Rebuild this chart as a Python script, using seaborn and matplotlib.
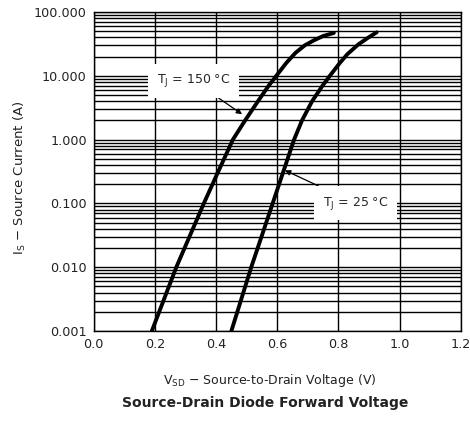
import numpy as np
import pandas as pd
import seaborn as sns
import matplotlib.pyplot as plt
from matplotlib.ticker import FixedLocator, LogLocator, NullFormatter

# Source-drain diode forward characteristic
v_150 = [0.19, 0.27, 0.36, 0.405, 0.455, 0.495, 0.537, 0.572, 0.597, 0.63, 0.66, 0.69, 0.72, 0.75, 0.785]
i_150 = [0.001, 0.01, 0.1, 0.3, 1.0, 2.0, 4.0, 7.0, 10.0, 16.0, 23.0, 30.0, 36.0, 42.0, 47.0]

v_25 = [0.45, 0.515, 0.585, 0.655, 0.681, 0.714, 0.748, 0.772, 0.805, 0.83, 0.865, 0.895, 0.925]
i_25 = [0.001, 0.01, 0.1, 1.0, 2.0, 4.0, 7.0, 10.0, 16.0, 22.0, 31.0, 39.0, 48.0]

x_ticks = [0.0, 0.2, 0.4, 0.6, 0.8, 1.0, 1.2]
y_ticks = [0.001, 0.01, 0.1, 1, 10, 100]

sns.set_style("white")
plt.rcParams['font.family'] = ['DejaVu Sans']
plt.rcParams['mathtext.fontset'] = 'dejavusans'

fig = plt.figure(figsize=(4.70, 4.21), dpi=100)
ax = fig.add_axes([0.1994, 0.2138, 0.781, 0.7577])

df150 = pd.DataFrame({"V": v_150, "I": i_150})
df25 = pd.DataFrame({"V": v_25, "I": i_25})
sns.lineplot(data=df150, x="V", y="I", color="black", lw=2.8,
             sort=False, estimator=None, ax=ax, zorder=4)
sns.lineplot(data=df25, x="V", y="I", color="black", lw=2.8,
             sort=False, estimator=None, ax=ax, zorder=4)

ax.set_yscale("log")
ax.set_xlim(0, 1.2)
ax.set_ylim(0.001, 100)

ax.xaxis.set_major_locator(FixedLocator(x_ticks))
ax.set_xticklabels([f"{t:.1f}" for t in x_ticks])
ax.yaxis.set_major_locator(FixedLocator(y_ticks))
ax.set_yticklabels([f"{t:.3f}" for t in y_ticks])
ax.yaxis.set_minor_locator(LogLocator(base=10, subs=np.arange(2, 10)))
ax.yaxis.set_minor_formatter(NullFormatter())

ax.tick_params(axis="both", which="both", length=0, labelsize=9.2,
               colors="#222222", pad=5)
ax.grid(True, axis="x", which="major", color="black", lw=1.0)
ax.grid(True, axis="y", which="both", color="black", lw=1.0)
ax.set_axisbelow(True)
for s in ax.spines.values():
    s.set_color("black")
    s.set_linewidth(1.0)

ax.set_xlabel(r"V$_\mathregular{SD}$ $-$ Source-to-Drain Voltage (V)",
              fontsize=9, color="#222222")
ax.xaxis.set_label_coords(0.48, -0.13)
ax.set_ylabel(r"I$_\mathregular{S}$ $-$ Source Current (A)",
              fontsize=9.5, color="#222222")
ax.yaxis.set_label_coords(-0.18, 0.48)

fig.text(0.565, 0.042, "Source-Drain Diode Forward Voltage", ha="center",
         va="center", fontsize=10, fontweight="bold", color="#222222")

box = dict(boxstyle="square,pad=0.7", fc="white", ec="none")
arrow = dict(arrowstyle="-|>", color="black", lw=0.9, mutation_scale=8,
             shrinkA=0, shrinkB=0)
ax.annotate(r"T$_\mathregular{J}$ = 150 °C", xy=(0.485, 2.5), xytext=(0.327, 8.3),
            ha="center", va="center", fontsize=9, bbox=box,
            arrowprops=arrow, zorder=3)
ax.annotate(r"T$_\mathregular{J}$ = 25 °C", xy=(0.625, 0.33), xytext=(0.855, 0.101),
            ha="center", va="center", fontsize=9, bbox=box,
            arrowprops=arrow, zorder=3)

fig.savefig("out.png", dpi=100)
